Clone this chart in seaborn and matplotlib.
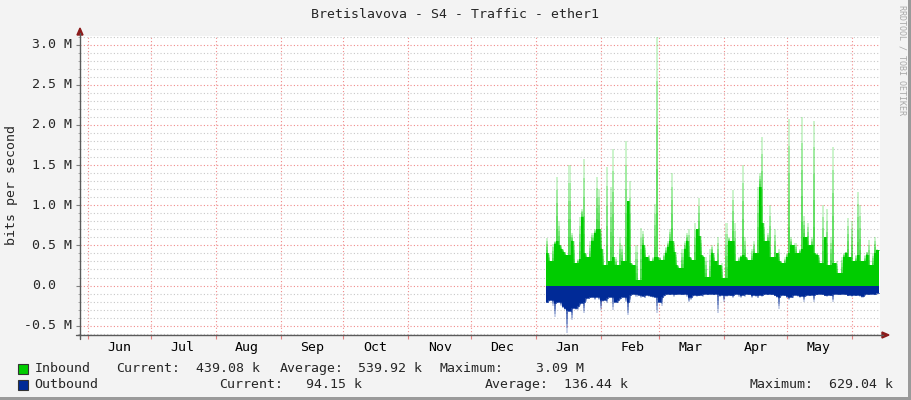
import numpy as np
import pandas as pd
import matplotlib
matplotlib.use('Agg')
import matplotlib.pyplot as plt
import matplotlib.dates as mdates
from matplotlib.patches import Rectangle, Polygon
from matplotlib.lines import Line2D
from matplotlib.transforms import ScaledTranslation
import seaborn as sns

# --- data (Mbit/s, one value per day) ---
title = 'Bretislavova - S4 - Traffic - ether1'
dates = pd.date_range('2017-01-06', periods=160, freq='D')

inbound = [
    0.59, 0.40, 0.30, 0.52, 0.55, 1.35, 0.80, 0.50, 0.45, 0.42,
    0.38, 1.50, 0.65, 0.55, 0.28, 0.33, 0.85, 0.95, 1.58, 0.40,
    0.35, 0.55, 0.65, 0.70, 1.35, 1.20, 0.70, 0.45, 0.25, 1.48,
    0.30, 1.23, 1.70, 0.35, 0.25, 0.60, 0.50, 0.30, 1.80, 1.05,
    1.30, 0.28, 0.25, 0.50, 0.07, 0.72, 0.68, 0.50, 0.35, 0.38,
    0.30, 0.35, 1.02, 3.09, 0.35, 0.32, 0.40, 0.48, 0.55, 0.70,
    1.40, 0.55, 0.42, 0.25, 0.22, 0.45, 0.55, 0.65, 0.70, 0.35,
    0.32, 0.78, 0.70, 1.09, 0.62, 0.38, 0.35, 0.11, 0.45, 0.50,
    0.40, 0.30, 0.60, 0.25, 0.28, 0.10, 0.78, 0.60, 0.55, 1.19,
    0.78, 0.30, 0.35, 0.38, 1.50, 0.60, 0.35, 0.32, 0.45, 0.55,
    0.40, 1.23, 1.40, 1.85, 0.78, 0.55, 0.65, 1.00, 0.35, 0.70,
    0.40, 0.45, 0.30, 0.28, 0.35, 0.40, 2.07, 0.60, 0.50, 0.53,
    0.40, 0.46, 2.10, 0.86, 0.60, 0.78, 0.50, 0.60, 2.05, 0.40,
    0.38, 0.28, 1.00, 0.60, 0.95, 0.25, 0.60, 1.73, 0.28, 0.30,
    0.15, 0.36, 0.40, 0.42, 0.84, 0.36, 0.80, 0.30, 0.38, 1.17,
    1.00, 0.30, 0.38, 0.42, 0.57, 0.25, 0.40, 0.60, 0.45, 0.44,
]

# drawn below zero
outbound = [
    0.22, 0.20, 0.18, 0.25, 0.39, 0.22, 0.20, 0.26, 0.28, 0.30,
    0.59, 0.32, 0.43, 0.28, 0.30, 0.30, 0.25, 0.22, 0.34, 0.20,
    0.15, 0.16, 0.14, 0.18, 0.14, 0.18, 0.30, 0.20, 0.18, 0.22,
    0.15, 0.14, 0.30, 0.20, 0.22, 0.18, 0.15, 0.14, 0.20, 0.37,
    0.20, 0.12, 0.10, 0.14, 0.12, 0.15, 0.13, 0.16, 0.12, 0.14,
    0.13, 0.15, 0.14, 0.34, 0.20, 0.25, 0.14, 0.12, 0.10, 0.12,
    0.10, 0.14, 0.12, 0.10, 0.10, 0.12, 0.10, 0.14, 0.20, 0.18,
    0.14, 0.12, 0.14, 0.13, 0.12, 0.14, 0.10, 0.12, 0.10, 0.10,
    0.12, 0.10, 0.34, 0.14, 0.12, 0.20, 0.14, 0.12, 0.13, 0.15,
    0.12, 0.10, 0.14, 0.15, 0.12, 0.14, 0.10, 0.12, 0.15, 0.12,
    0.14, 0.16, 0.12, 0.14, 0.12, 0.10, 0.12, 0.10, 0.12, 0.13,
    0.15, 0.29, 0.14, 0.12, 0.13, 0.16, 0.18, 0.14, 0.16, 0.12,
    0.14, 0.15, 0.13, 0.20, 0.14, 0.12, 0.13, 0.12, 0.20, 0.12,
    0.11, 0.10, 0.12, 0.13, 0.14, 0.12, 0.13, 0.20, 0.11, 0.10,
    0.12, 0.11, 0.10, 0.12, 0.13, 0.12, 0.14, 0.12, 0.13, 0.12,
    0.14, 0.15, 0.13, 0.11, 0.12, 0.10, 0.11, 0.12, 0.10, 0.09,
]

y_ticks = [-0.5, 0.0, 0.5, 1.0, 1.5, 2.0, 2.5, 3.0]
y_tick_labels = ['-0.5 M', '0.0', '0.5 M', '1.0 M', '1.5 M', '2.0 M', '2.5 M', '3.0 M']

series_names = ['Inbound', 'Outbound']
current_vals = ['439.08 k', '94.15 k']
average_vals = ['539.92 k', '136.44 k']
maximum_vals = ['3.09 M', '629.04 k']

# --- style ---
IN_COLOR = '#00cc00'
OUT_COLOR = '#002a97'
BG = '#f3f3f3'
W, H = 911, 400
CHAR = 7.92  # mono glyph advance in px at 9.5pt

sns.set_theme(style='white')
plt.rcParams['font.family'] = ['DejaVu Sans Mono']
plt.rcParams['font.size'] = 9.5


def fx(x):
    return x / W


def fy(y):
    return 1 - y / H


fig = plt.figure(figsize=(W / 100, H / 100), dpi=100, facecolor=BG)
ax = fig.add_axes([fx(80), fy(335), (880 - 80) / W, (335 - 36) / H])
ax.set_facecolor('white')

x = mdates.date2num(dates)


def area(values, sign, color):
    top = np.asarray(values) * sign
    # solid part = lowest of the neighbours, spikes above it are faded
    mag = pd.Series(np.abs(top)).rolling(3, center=True, min_periods=1).min().to_numpy()
    base = mag * sign
    ax.fill_between(x, 0, base, color=color, step='mid', lw=0, zorder=3)
    for k in range(1, 6):
        ax.fill_between(x, base, base + (top - base) * k / 5, color=color,
                        alpha=0.2, step='mid', lw=0, zorder=3)
    sns.lineplot(x=x, y=base, ax=ax, color=color, lw=0.5,
                 drawstyle='steps-mid', zorder=3)


area(inbound, 1, IN_COLOR)
area(outbound, -1, OUT_COLOR)

# --- axes ---
jan1 = mdates.date2num(pd.Timestamp('2017-01-01'))
ax.set_xlim(jan1 - (536 - 80) / 2.093, jan1 + (880 - 536) / 2.093)
ax.set_ylim(-0.616, 3.108)

ax.set_yticks(y_ticks)
ax.set_yticklabels([])
ax.set_yticks(np.arange(-6, 32) / 10, minor=True)
# rrdtool pads unit-less labels, so "0.0" sits two chars further left
for yv, lab in zip(y_ticks, y_tick_labels):
    shift = 0 if lab.endswith('M') else -2 * CHAR
    ax.text(0, yv, lab, transform=ax.get_yaxis_transform()
            + ScaledTranslation((shift - 8) / 100, 0, fig.dpi_scale_trans),
            ha='right', va='center', fontsize=9.5)

ax.xaxis.set_major_locator(mdates.MonthLocator(bymonthday=1))
ax.xaxis.set_major_formatter(plt.NullFormatter())
ax.xaxis.set_minor_locator(mdates.MonthLocator(bymonthday=16))
ax.xaxis.set_minor_formatter(mdates.DateFormatter('%b'))

ax.tick_params(axis='y', which='major', length=3, width=0.8, color='#808080', left=True)
ax.tick_params(axis='y', which='minor', length=1.5, width=0.6, color='#a0a0a0', left=True)
ax.tick_params(axis='x', which='major', length=3, width=0.8, color='#e08080', bottom=True)
ax.tick_params(axis='x', which='minor', length=0, pad=4.5, labelsize=9.5, labelcolor='black')

ax.grid(which='minor', axis='y', color='#c8c8c8', ls=(0, (1, 2)), lw=0.8, zorder=1)
ax.grid(which='major', axis='both', color='#f08a8a', ls=(0, (1, 2)), lw=0.8, zorder=2)

for s in ax.spines.values():
    s.set_visible(False)

# axis lines with arrows
AX_COLOR = '#5a5a5a'
ARROW = '#8b1a1a'
fig.add_artist(Line2D([fx(80), fx(80)], [fy(339), fy(33)], color=AX_COLOR, lw=1))
fig.add_artist(Line2D([fx(76), fx(883)], [fy(335), fy(335)], color=AX_COLOR, lw=1))
fig.add_artist(Polygon([(fx(77), fy(35)), (fx(83), fy(35)), (fx(80), fy(28))],
                       closed=True, color=ARROW, transform=fig.transFigure))
fig.add_artist(Polygon([(fx(882), fy(332)), (fx(882), fy(338)), (fx(889), fy(335))],
                       closed=True, color=ARROW, transform=fig.transFigure))

# --- texts ---
fig.text(fx(455), fy(14), title, ha='center', va='center', fontsize=9.5)
fig.text(fx(12), fy(185), 'bits per second', rotation=90, ha='center', va='center', fontsize=9.5)
fig.text(fx(902), fy(60), 'RRDTOOL / TOBI OETIKER', rotation=270, ha='center', va='center',
         fontsize=6, color='#a8a8a8')

# legend rows
row_y = [368.5, 384.5]
colors = [IN_COLOR, OUT_COLOR]
label_x = [
    [34.5, 116.5, 196.5, 279.5, 358.5, 440, 536],
    [34.5, 219.5, 306.5, 485, 564, 750, 829],
]
for i in range(2):
    fig.add_artist(Rectangle((fx(17.5), fy(row_y[i] + 5)), 10 / W, 9.5 / H, transform=fig.transFigure,
                             facecolor=colors[i], edgecolor='#333333', lw=0.8))
    parts = [series_names[i], 'Current:', current_vals[i], 'Average:', average_vals[i],
             'Maximum:', maximum_vals[i]]
    for px, txt in zip(label_x[i], parts):
        fig.text(fx(px), fy(row_y[i]), txt, ha='left', va='center', fontsize=9.5)

# frame edges
fig.add_artist(Rectangle((fx(908), 0), 3 / W, 1, transform=fig.transFigure, color='#9a9a9a', lw=0))
fig.add_artist(Rectangle((0, 0), 1, 3 / H, transform=fig.transFigure, color='#9a9a9a', lw=0))

fig.savefig('out.png', dpi=100, facecolor=BG)
